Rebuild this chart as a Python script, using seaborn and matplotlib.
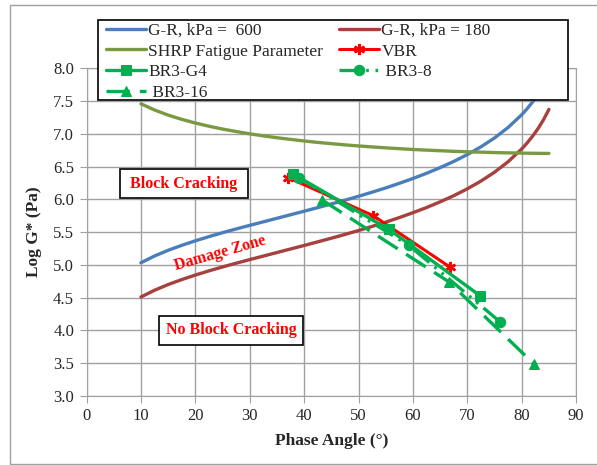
import numpy as np
import pandas as pd
import matplotlib
matplotlib.use('Agg')
import matplotlib.pyplot as plt
from matplotlib.patches import Rectangle
import seaborn as sns

# Phase angle grid for the reference curves
curve_angle = [10, 12.5, 15, 17.5, 20, 22.5, 25, 27.5, 30, 32.5, 35, 37.5, 40, 42.5, 45, 47.5,
               50, 52.5, 55, 57.5, 60, 62.5, 65, 67.5, 70, 72.5, 75, 77.5, 80, 81, 82, 83, 84, 85]
gr_600 = [5.031, 5.134, 5.221, 5.297, 5.366, 5.430, 5.490, 5.547, 5.602, 5.656, 5.710, 5.764,
          5.818, 5.873, 5.929, 5.986, 6.046, 6.109, 6.174, 6.244, 6.318, 6.397, 6.484, 6.578,
          6.683, 6.801, 6.937, 7.097, 7.292, 7.384, 7.487, 7.603, 7.737, 7.896]
gr_180 = [4.508, 4.611, 4.698, 4.774, 4.843, 4.907, 4.967, 5.024, 5.079, 5.133, 5.187, 5.241,
          5.295, 5.350, 5.406, 5.463, 5.523, 5.586, 5.651, 5.721, 5.795, 5.874, 5.961, 6.055,
          6.160, 6.278, 6.414, 6.574, 6.769, 6.861, 6.964, 7.080, 7.214, 7.373]
shrp = [7.459, 7.364, 7.286, 7.221, 7.165, 7.116, 7.073, 7.035, 7.000, 6.969, 6.940, 6.915,
        6.891, 6.869, 6.850, 6.831, 6.815, 6.800, 6.786, 6.773, 6.761, 6.751, 6.742, 6.733,
        6.726, 6.720, 6.714, 6.709, 6.706, 6.704, 6.703, 6.702, 6.701, 6.701]

# Binder test points
vbr_x = [37.1, 52.7, 66.9]
vbr_y = [6.33, 5.75, 4.96]
g4_x = [37.9, 55.6, 72.3]
g4_y = [6.39, 5.54, 4.53]
br8_x = [39.0, 59.2, 76.0]
br8_y = [6.33, 5.30, 4.13]
br16_x = [43.3, 66.6, 82.3]
br16_y = [5.99, 4.74, 3.48]

sns.set_style('white')
plt.rcParams['font.family'] = ['Liberation Serif', 'DejaVu Serif']

fig = plt.figure(figsize=(5.97, 4.65), dpi=100)
ax = fig.add_axes([0.145, 0.149, 0.82, 0.704])

curves = pd.DataFrame({'angle': curve_angle, 'gr600': gr_600, 'gr180': gr_180, 'shrp': shrp})

h_gr600 = sns.lineplot(data=curves, x='angle', y='gr600', ax=ax, color='#4A7EBB', lw=2.4,
                       sort=False, estimator=None).lines[-1]
h_gr180 = sns.lineplot(data=curves, x='angle', y='gr180', ax=ax, color='#A6413E', lw=2.4,
                       sort=False, estimator=None).lines[-1]
h_shrp = sns.lineplot(data=curves, x='angle', y='shrp', ax=ax, color='#7A9A42', lw=2.4,
                      sort=False, estimator=None).lines[-1]

h_vbr = sns.lineplot(x=vbr_x, y=vbr_y, ax=ax, color='#FF0000', lw=2.2, marker=(6, 2, 0), ms=8,
                     mew=1.8, mec='#FF0000', sort=False, estimator=None).lines[-1]
h_g4 = sns.lineplot(x=g4_x, y=g4_y, ax=ax, color='#00B050', lw=2.4, marker='s', ms=7.5,
                    mec='#00B050', sort=False, estimator=None).lines[-1]
h_br8 = sns.lineplot(x=br8_x, y=br8_y, ax=ax, color='#00B050', lw=2.4, marker='o', ms=7.5,
                     mec='#00B050', sort=False, estimator=None).lines[-1]
h_br8.set_dashes([6, 2, 0.8, 2, 0.8, 2])
h_br16 = sns.lineplot(x=br16_x, y=br16_y, ax=ax, color='#00B050', lw=2.4, marker='^', ms=7.5,
                      mec='#00B050', sort=False, estimator=None).lines[-1]
h_br16.set_dashes([7, 3])

ax.set_xlim(0, 90)
ax.set_ylim(3.0, 8.0)
ax.set_xticks(np.arange(0, 91, 10))
ax.set_yticks(np.arange(3.0, 8.01, 0.5))
ax.set_yticklabels([f'{v:.1f}' for v in np.arange(3.0, 8.01, 0.5)])
ax.grid(True, color='#A0A0A0', lw=1.0)
ax.set_axisbelow(True)
for s in ax.spines.values():
    s.set_color('#A0A0A0')
ax.tick_params(axis='both', labelsize=12, length=5, color='#A0A0A0', direction='out',
               bottom=True, left=True, pad=4)
ax.set_xlabel('Phase Angle (°)', fontsize=12.5, fontweight='bold', labelpad=6)
ax.set_ylabel('Log G* (Pa)', fontsize=12.5, fontweight='bold', labelpad=8)

# Zone labels
ax.text(17.9, 6.24, ' Block Cracking ', color='#FF0000', fontsize=11.5, fontweight='bold',
        ha='center', va='center',
        bbox=dict(boxstyle='square,pad=0.42', fc='white', ec='black', lw=1.2))
ax.text(26.6, 4.0, 'No Block Cracking', color='#FF0000', fontsize=11.5, fontweight='bold',
        ha='center', va='center',
        bbox=dict(boxstyle='square,pad=0.42', fc='white', ec='black', lw=1.2))
ax.text(24.5, 5.18, 'Damage Zone', color='#FF0000', fontsize=11.5, fontweight='bold',
        ha='center', va='center', rotation=16)

# Legend box drawn separately so it spans the same width as the original
fig.patches.append(Rectangle((98 / 597, 1 - 100 / 465), 470 / 597, 80 / 465,
                             transform=fig.transFigure, fc='white', ec='black', lw=1.2,
                             zorder=4))

handles = [h_gr600, h_shrp, h_g4, h_br16, h_gr180, h_vbr, h_br8]
labels = ['G-R, kPa =  600', 'SHRP Fatigue Parameter', 'BR3-G4', ' BR3-16',
          'G-R, kPa = 180', 'VBR', ' BR3-8']
leg = fig.legend(handles, labels, ncol=2, loc='upper left',
                 bbox_to_anchor=(104 / 597, 1 - 21 / 465), borderaxespad=0, fontsize=12.5,
                 frameon=False, handlelength=2.3, handletextpad=0.15, labelspacing=0.26,
                 borderpad=0.1, columnspacing=0.9)

# Chart-area border
fig.patches.append(Rectangle((10 / 597, 1 / 465), 1.0, 1 - 6 / 465, transform=fig.transFigure,
                             fill=False, ec='#A0A0A0', lw=1.0, zorder=0))

fig.savefig('out.png', dpi=100)
